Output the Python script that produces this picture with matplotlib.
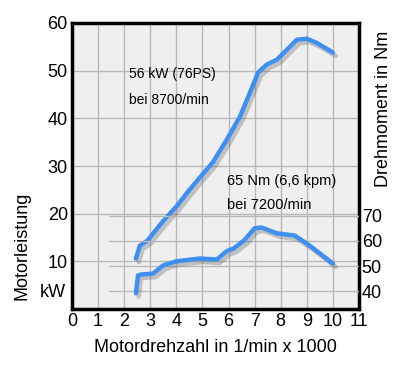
import matplotlib
matplotlib.use('Agg')
import matplotlib.pyplot as plt
import matplotlib.patheffects as pe

plt.rcParams['font.family'] = ['Liberation Sans', 'DejaVu Sans']

# Motorleistung (kW) ueber Drehzahl (1/min x 1000)
power_rpm = [2.45, 2.6, 2.9, 3.2, 3.5, 4.0, 4.5, 4.9, 5.4, 5.94, 6.44, 6.82, 7.13,
             7.47, 7.85, 8.24, 8.62, 9.0, 9.39, 10.0]
power_kw = [10.6, 13.3, 14.4, 16.5, 18.5, 21.5, 25.0, 27.6, 30.8, 35.6, 40.4, 45.4,
            49.6, 51.3, 52.3, 54.4, 56.5, 56.7, 55.8, 53.8]

# Drehmoment (Nm) ueber Drehzahl
torque_rpm = [2.45, 2.53, 2.68, 3.1, 3.5, 4.0, 4.9, 5.55, 5.94, 6.2, 6.6, 7.0, 7.27,
              7.85, 8.54, 9.1, 10.0]
torque_nm = [39.2, 46.3, 46.7, 47.0, 50.3, 51.9, 53.0, 52.6, 56.0, 57.0, 60.2, 65.0,
             65.3, 63.0, 62.1, 58.2, 51.0]

x_ticks = list(range(0, 12))
power_ticks = [10, 20, 30, 40, 50, 60]
torque_ticks = [40, 50, 60, 70]

blue = '#3f8ff0'
grid_col = '#b8b8b8'
shadow = [pe.SimpleLineShadow(offset=(2, -2.5), shadow_color='#555555', alpha=0.3),
          pe.Normal()]

fig = plt.figure(figsize=(4, 3.65), dpi=100)
ax = fig.add_axes([0.18, 0.153, 0.7175, 0.784])
ax.set_facecolor('#efefef')
ax.set_xlim(0, 11)
ax.set_ylim(0, 60)

# Gitter fuer Leistung
for x in x_ticks[1:-1]:
    ax.axvline(x, color=grid_col, lw=1, zorder=1)
for y in power_ticks[:-1]:
    ax.axhline(y, color=grid_col, lw=1, zorder=1)

ax.plot(power_rpm, power_kw, color=blue, lw=3.2, solid_capstyle='round',
        solid_joinstyle='round', path_effects=shadow, zorder=3)

ax.set_xticks(x_ticks)
ax.set_yticks(power_ticks)
ax.tick_params(length=0, labelsize=13, pad=3)
for s in ax.spines.values():
    s.set_linewidth(2.5)
ax.set_xlabel('Motordrehzahl in 1/min x 1000', fontsize=13, labelpad=6)
ax.set_ylabel('Motorleistung', fontsize=13, labelpad=6)
ax.yaxis.set_label_coords(-0.145, 0.22)
ax.text(-0.02, 3.5, 'kW', fontsize=13, ha='right', va='center',
        transform=ax.get_yaxis_transform())

# Drehmoment auf zweiter Achse
ax2 = ax.twinx()
ax2.set_ylim(32.9, 146.5)
for t in torque_ticks:
    ax2.plot([1.4, 11], [t, t], color=grid_col, lw=1, zorder=1)
ax2.plot(torque_rpm, torque_nm, color=blue, lw=3.2, solid_capstyle='round',
         solid_joinstyle='round', path_effects=shadow, zorder=3)
ax2.set_yticks(torque_ticks)
ax2.tick_params(length=0, labelsize=13, pad=2)
for s in ax2.spines.values():
    s.set_visible(False)
ax2.set_ylabel('Drehmoment in Nm', fontsize=13, labelpad=6)
ax2.yaxis.set_label_coords(1.055, 0.70)

ax.text(2.2, 48.5, '56 kW (76PS)', fontsize=10)
ax.text(2.2, 43.0, 'bei 8700/min', fontsize=10)
ax.text(5.95, 26.0, '65 Nm (6,6 kpm)', fontsize=10.5)
ax.text(5.95, 21.0, 'bei 7200/min', fontsize=10.5)

fig.savefig('out.png', dpi=100, facecolor='white')
